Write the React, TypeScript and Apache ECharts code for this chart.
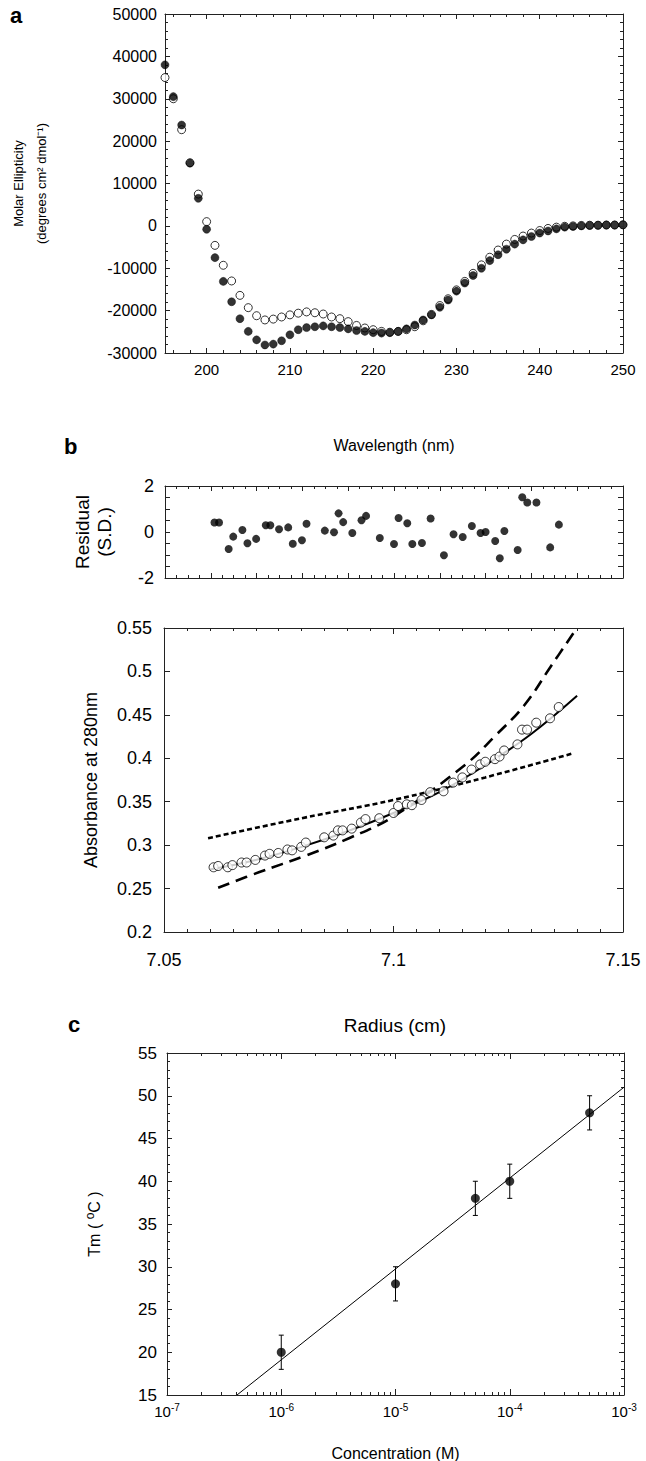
import React, { useEffect, useRef } from "react";
import * as echarts from "echarts";

// ---------- Panel a: CD spectra ----------
const wavelengths = [195,196,197,198,199,200,201,202,203,204,205,206,207,208,209,210,211,212,213,214,215,216,217,218,219,220,221,222,223,224,225,226,227,228,229,230,231,232,233,234,235,236,237,238,239,240,241,242,243,244,245,246,247,248,249,250];
const ellipFilled = [38000,30500,23800,14800,6500,-800,-7500,-13100,-17900,-21900,-24900,-26900,-28100,-27900,-27100,-25700,-24500,-24000,-23800,-23600,-23800,-24000,-24300,-24700,-24900,-25200,-25300,-25200,-24900,-24300,-23400,-22200,-21000,-19200,-17500,-15400,-13500,-11700,-10000,-8200,-6800,-5500,-4300,-3300,-2500,-1700,-1200,-700,-300,-150,0,100,150,200,200,250];
const ellipOpen = [35000,30000,22700,14900,7500,1000,-4600,-9300,-13000,-16400,-19300,-21200,-22200,-22000,-21500,-21000,-20600,-20300,-20500,-20800,-21500,-21900,-22600,-23500,-24100,-24500,-24900,-25100,-24900,-24500,-23800,-22400,-20900,-18800,-17200,-15100,-13100,-11200,-9200,-7400,-5700,-4300,-3200,-2400,-1700,-1100,-600,-300,-100,0,100,150,150,200,200,250];
const wlLabelTicks = [200,210,220,230,240,250];
const wlMinorTicks = [196,198,202,204,206,208,212,214,216,218,222,224,226,228,232,234,236,238,242,244,246,248];

// ---------- Panel b: sedimentation equilibrium ----------
const radius = [7.0608,7.0618,7.0639,7.0649,7.0669,7.0680,7.0699,7.0720,7.0730,7.0749,7.0769,7.0779,7.0799,7.0809,7.0849,7.0869,7.0879,7.0889,7.0909,7.0929,7.0939,7.0969,7.1000,7.1010,7.1029,7.1040,7.1061,7.1080,7.1109,7.1130,7.1150,7.1170,7.1189,7.1200,7.1221,7.1231,7.1241,7.1270,7.1280,7.1291,7.1311,7.1341,7.1360];
const absorbance = [0.2745,0.276,0.2745,0.277,0.280,0.280,0.283,0.288,0.290,0.291,0.295,0.294,0.298,0.303,0.309,0.311,0.317,0.317,0.319,0.326,0.330,0.331,0.337,0.345,0.347,0.346,0.352,0.361,0.362,0.372,0.378,0.387,0.393,0.396,0.399,0.402,0.409,0.416,0.433,0.433,0.441,0.446,0.459];
const residuals = [0.41,0.41,-0.74,-0.20,0.09,-0.49,-0.30,0.29,0.29,0.12,0.20,-0.51,-0.36,0.36,0.06,-0.01,0.81,0.43,-0.04,0.51,0.70,-0.26,-0.52,0.61,0.38,-0.52,-0.48,0.59,-1.01,-0.10,-0.22,0.26,-0.04,0.00,-0.39,-1.14,0.04,-0.78,1.51,1.28,1.28,-0.67,0.32];
const fitSolidX = [7.060,7.070,7.080,7.090,7.100,7.110,7.120,7.130,7.140];
const fitSolidY = [0.272,0.283,0.298,0.316,0.337,0.361,0.392,0.428,0.472];
const fitLongDashX = [7.0618,7.0708,7.0809,7.0903,7.1000,7.1155,7.1220,7.1285,7.1343,7.1397];
const fitLongDashY = [0.251,0.269,0.288,0.308,0.333,0.392,0.425,0.461,0.506,0.548];
const fitShortDashX = [7.0596,7.080,7.100,7.120,7.1393];
const fitShortDashY = [0.308,0.331,0.352,0.378,0.406];

// ---------- Panel c: Tm vs concentration ----------
const concentration = [1e-6,1e-5,5e-5,1e-4,5e-4];
const tm = [20,28,38,40,48];
const tmErr = [2,2,2,2,2];
const tmFitX = [4.1e-7,1e-3];
const tmFitY = [15,51];
const logMinorTicks = [2e-7,3e-7,4e-7,5e-7,6e-7,7e-7,8e-7,9e-7,2e-6,3e-6,4e-6,5e-6,6e-6,7e-6,8e-6,9e-6,2e-5,3e-5,4e-5,5e-5,6e-5,7e-5,8e-5,9e-5,2e-4,3e-4,4e-4,5e-4,6e-4,7e-4,8e-4,9e-4];

const FONT = "'Liberation Sans', Arial, Helvetica, sans-serif";
const BLACK = "#000";
const AXIS = "#222";

const zip = (a: number[], b: number[]) => a.map((v, i) => [v, b[i]]);

function boxAxis(extra: any): any {
  const { axisLine, ...rest } = extra;
  return {
    axisTick: { show: true, inside: true, length: 5, lineStyle: { color: AXIS, width: 1 } },
    axisLabel: { show: false },
    splitLine: { show: false },
    ...rest,
    axisLine: { show: true, onZero: false, lineStyle: { color: AXIS, width: 1 }, ...(axisLine || {}) },
  };
}

export default function App() {
  const ref = useRef<HTMLDivElement>(null);
  useEffect(() => {
    if (!ref.current) return;
    const chart = echarts.init(ref.current, undefined, { renderer: "svg" });

    const grids = [
      { left: 165, top: 14, width: 458, height: 339 },
      { left: 165, top: 486, width: 458, height: 92 },
      { left: 164, top: 628, width: 459, height: 304 },
      { left: 167, top: 1053, width: 457, height: 342 },
    ].map((g) => ({ ...g, containLabel: false, outerBoundsMode: "none" }));

    const minorTickStyle = { show: true, length: 3, lineStyle: { color: AXIS, width: 1 } };

    const xAxis: any[] = [
      // 0: panel a bottom
      boxAxis({
        gridIndex: 0, type: "value", position: "bottom", min: 195, max: 250,
        axisTick: { show: true, inside: true, length: 5, customValues: wlLabelTicks, lineStyle: { color: AXIS } },
        axisLabel: { show: true, customValues: wlLabelTicks, fontSize: 15, color: BLACK, margin: 9, fontFamily: FONT },
        name: "Wavelength (nm)", nameLocation: "middle", nameGap: 84,
        nameTextStyle: { fontSize: 16, color: BLACK, fontFamily: FONT },
      }),
      // 1: panel a bottom minor
      boxAxis({
        gridIndex: 0, type: "value", position: "bottom", min: 195, max: 250,
        axisLine: { show: false },
        axisTick: { show: true, inside: true, length: 3, customValues: wlMinorTicks, lineStyle: { color: AXIS } },
      }),
      // 2: panel a top
      boxAxis({
        gridIndex: 0, type: "value", position: "top", min: 195, max: 250,
        axisTick: { show: true, inside: true, length: 5, customValues: wlLabelTicks, lineStyle: { color: AXIS } },
      }),
      // 3: panel a top minor
      boxAxis({
        gridIndex: 0, type: "value", position: "top", min: 195, max: 250,
        axisLine: { show: false },
        axisTick: { show: true, inside: true, length: 3, customValues: wlMinorTicks, lineStyle: { color: AXIS } },
      }),
      // 4: residual bottom
      boxAxis({
        gridIndex: 1, type: "value", position: "bottom", min: 7.05, max: 7.15, interval: 0.01,
        minorTick: { ...minorTickStyle, splitNumber: 4 },
      }),
      // 5: residual top
      boxAxis({
        gridIndex: 1, type: "value", position: "top", min: 7.05, max: 7.15, interval: 0.01,
        minorTick: { ...minorTickStyle, splitNumber: 4 },
      }),
      // 6: absorbance bottom
      boxAxis({
        gridIndex: 2, type: "value", position: "bottom", min: 7.05, max: 7.15, interval: 0.05,
        axisTick: { show: true, inside: true, length: 6, lineStyle: { color: AXIS } },
        minorTick: { ...minorTickStyle, splitNumber: 10 },
        axisLabel: { show: true, fontSize: 18, color: BLACK, margin: 19, fontFamily: FONT },
      }),
      // 7: absorbance top
      boxAxis({
        gridIndex: 2, type: "value", position: "top", min: 7.05, max: 7.15, interval: 0.05,
        axisTick: { show: true, inside: true, length: 6, lineStyle: { color: AXIS } },
        minorTick: { ...minorTickStyle, splitNumber: 10 },
      }),
      // 8: panel c bottom (log)
      boxAxis({
        gridIndex: 3, type: "log", logBase: 10, position: "bottom", min: 1e-7, max: 1e-3,
        axisTick: { show: true, inside: true, length: 6, lineStyle: { color: AXIS } },
        axisLabel: {
          show: true, fontSize: 15, color: BLACK, margin: 7, fontFamily: FONT,
          formatter: (v: number) => "10{sup|" + Math.round(Math.log10(v)) + "}",
          rich: { sup: { fontSize: 10, color: BLACK, fontFamily: FONT, padding: [0, 0, 9, 0] } },
        },
        name: "Concentration (M)", nameLocation: "middle", nameGap: 50,
        nameTextStyle: { fontSize: 16, color: BLACK, fontFamily: FONT },
      }),
      // 9: panel c bottom minor
      boxAxis({
        gridIndex: 3, type: "log", logBase: 10, position: "bottom", min: 1e-7, max: 1e-3,
        axisLine: { show: false },
        axisTick: { show: true, inside: true, length: 3, customValues: logMinorTicks, lineStyle: { color: AXIS } },
      }),
      // 10: panel c top
      boxAxis({
        gridIndex: 3, type: "log", logBase: 10, position: "top", min: 1e-7, max: 1e-3,
        axisTick: { show: true, inside: true, length: 6, lineStyle: { color: AXIS } },
      }),
      // 11: panel c top minor
      boxAxis({
        gridIndex: 3, type: "log", logBase: 10, position: "top", min: 1e-7, max: 1e-3,
        axisLine: { show: false },
        axisTick: { show: true, inside: true, length: 3, customValues: logMinorTicks, lineStyle: { color: AXIS } },
      }),
    ];

    const yAxis: any[] = [
      // 0: panel a left
      boxAxis({
        gridIndex: 0, type: "value", position: "left", min: -30000, max: 50000, interval: 10000,
        minorTick: { ...minorTickStyle, splitNumber: 5 },
        axisLabel: { show: true, fontSize: 16, color: BLACK, margin: 8, fontFamily: FONT, formatter: (v: number) => String(v) },
        name: "Molar Ellipticity\n(degrees cm² dmol⁻¹)", nameLocation: "middle", nameRotate: 90, nameGap: 112,
        nameTextStyle: { fontSize: 13, lineHeight: 23, color: BLACK, fontFamily: FONT, align: "center" },
      }),
      // 1: panel a right
      boxAxis({
        gridIndex: 0, type: "value", position: "right", min: -30000, max: 50000, interval: 10000,
        minorTick: { ...minorTickStyle, splitNumber: 5 },
      }),
      // 2: residual left
      boxAxis({
        gridIndex: 1, type: "value", position: "left", min: -2, max: 2, interval: 0.5,
        axisLabel: {
          show: true, fontSize: 18, color: BLACK, margin: 11, fontFamily: FONT,
          formatter: (v: number) => (Math.abs(v % 2) < 1e-9 ? String(v) : ""),
        },
        name: "Residual\n(S.D.)", nameLocation: "middle", nameRotate: 90, nameGap: 50,
        nameTextStyle: { fontSize: 19, lineHeight: 22, color: BLACK, fontFamily: FONT, align: "center" },
      }),
      // 3: residual right
      boxAxis({ gridIndex: 1, type: "value", position: "right", min: -2, max: 2, interval: 0.5 }),
      // 4: absorbance left
      boxAxis({
        gridIndex: 2, type: "value", position: "left", min: 0.2, max: 0.55, interval: 0.05,
        axisTick: { show: true, inside: true, length: 6, lineStyle: { color: AXIS } },
        axisLabel: { show: true, fontSize: 18, color: BLACK, margin: 12, fontFamily: FONT },
        name: "Absorbance at 280nm", nameLocation: "middle", nameRotate: 90, nameGap: 64,
        nameTextStyle: { fontSize: 18, color: BLACK, fontFamily: FONT },
      }),
      // 5: absorbance right
      boxAxis({
        gridIndex: 2, type: "value", position: "right", min: 0.2, max: 0.55, interval: 0.05,
        axisTick: { show: true, inside: true, length: 6, lineStyle: { color: AXIS } },
      }),
      // 6: panel c left
      boxAxis({
        gridIndex: 3, type: "value", position: "left", min: 15, max: 55, interval: 5,
        minorTick: { ...minorTickStyle, splitNumber: 5 },
        axisLabel: { show: true, fontSize: 17, color: BLACK, margin: 10, fontFamily: FONT },
        name: "Tm ( {sup|o}C )", nameLocation: "middle", nameRotate: 90, nameGap: 63,
        nameTextStyle: {
          fontSize: 16, color: BLACK, fontFamily: FONT,
          rich: { sup: { fontSize: 12, color: BLACK, fontFamily: FONT, padding: [0, 0, 8, 0] } },
        },
      }),
      // 7: panel c right
      boxAxis({
        gridIndex: 3, type: "value", position: "right", min: 15, max: 55, interval: 5,
        minorTick: { ...minorTickStyle, splitNumber: 5 },
      }),
    ];

    const series: any[] = [
      {
        type: "scatter", name: "open", xAxisIndex: 0, yAxisIndex: 0, symbol: "circle", symbolSize: 8,
        itemStyle: { color: "#fff", borderColor: BLACK, borderWidth: 1 },
        data: zip(wavelengths, ellipOpen), z: 2,
      },
      {
        type: "scatter", name: "filled", xAxisIndex: 0, yAxisIndex: 0, symbol: "circle", symbolSize: 8,
        itemStyle: { color: BLACK, borderColor: BLACK, borderWidth: 0.5 },
        data: zip(wavelengths, ellipFilled), z: 3,
      },
      {
        type: "scatter", name: "residual", xAxisIndex: 4, yAxisIndex: 2, symbol: "circle", symbolSize: 8,
        itemStyle: { color: BLACK },
        data: zip(radius, residuals),
      },
      {
        type: "line", name: "fit", xAxisIndex: 6, yAxisIndex: 4, smooth: 0.4, showSymbol: false,
        lineStyle: { color: BLACK, width: 2 }, data: zip(fitSolidX, fitSolidY), z: 2,
      },
      {
        type: "line", name: "fit long dash", xAxisIndex: 6, yAxisIndex: 4, smooth: 0.4, showSymbol: false,
        lineStyle: { color: BLACK, width: 2.6, type: [12, 7] }, data: zip(fitLongDashX, fitLongDashY), z: 2,
      },
      {
        type: "line", name: "fit short dash", xAxisIndex: 6, yAxisIndex: 4, smooth: 0.4, showSymbol: false,
        lineStyle: { color: BLACK, width: 2.6, type: [5, 3] }, data: zip(fitShortDashX, fitShortDashY), z: 2,
      },
      {
        type: "scatter", name: "absorbance", xAxisIndex: 6, yAxisIndex: 4, symbol: "circle", symbolSize: 9,
        itemStyle: { color: "#fff", borderColor: BLACK, borderWidth: 1 },
        data: zip(radius, absorbance), z: 4,
      },
      {
        type: "line", name: "tm fit", xAxisIndex: 8, yAxisIndex: 6, showSymbol: false,
        lineStyle: { color: BLACK, width: 1 }, data: zip(tmFitX, tmFitY), z: 2,
      },
      {
        type: "custom", name: "tm err", xAxisIndex: 8, yAxisIndex: 6, z: 3,
        data: concentration.map((c, i) => [c, tm[i], tm[i] - tmErr[i], tm[i] + tmErr[i]]),
        renderItem: (params: any, api: any) => {
          const x = api.value(0);
          const lo = api.coord([x, api.value(2)]);
          const hi = api.coord([x, api.value(3)]);
          const st = { stroke: BLACK, lineWidth: 1 };
          return {
            type: "group",
            children: [
              { type: "line", shape: { x1: lo[0], y1: lo[1], x2: hi[0], y2: hi[1] }, style: st },
              { type: "line", shape: { x1: lo[0] - 2.5, y1: lo[1], x2: lo[0] + 2.5, y2: lo[1] }, style: st },
              { type: "line", shape: { x1: hi[0] - 2.5, y1: hi[1], x2: hi[0] + 2.5, y2: hi[1] }, style: st },
            ],
          };
        },
      },
      {
        type: "scatter", name: "tm", xAxisIndex: 8, yAxisIndex: 6, symbol: "circle", symbolSize: 9,
        itemStyle: { color: BLACK }, data: zip(concentration, tm), z: 4,
      },
    ];

    const graphic: any[] = [
      { type: "text", left: 10, top: 4, style: { text: "a", font: `bold 22px ${FONT}`, fill: BLACK } },
      { type: "text", left: 64, top: 435, style: { text: "b", font: `bold 22px ${FONT}`, fill: BLACK } },
      { type: "text", left: 68, top: 1013, style: { text: "c", font: `bold 22px ${FONT}`, fill: BLACK } },
      {
        type: "text", x: 395, y: 1025,
        style: { text: "Radius (cm)", font: `19px ${FONT}`, fill: BLACK, align: "center", verticalAlign: "middle" },
      },
    ];

    chart.setOption({
      animation: false,
      backgroundColor: "#fff",
      textStyle: { fontFamily: FONT, color: BLACK },
      grid: grids,
      xAxis,
      yAxis,
      series,
      graphic,
    });
    return () => chart.dispose();
  }, []);
  return (
    <div
      ref={ref}
      style={{ position: "absolute", left: 0, top: 0, width: 646, height: 1461, background: "#fff" }}
    />
  );
}
